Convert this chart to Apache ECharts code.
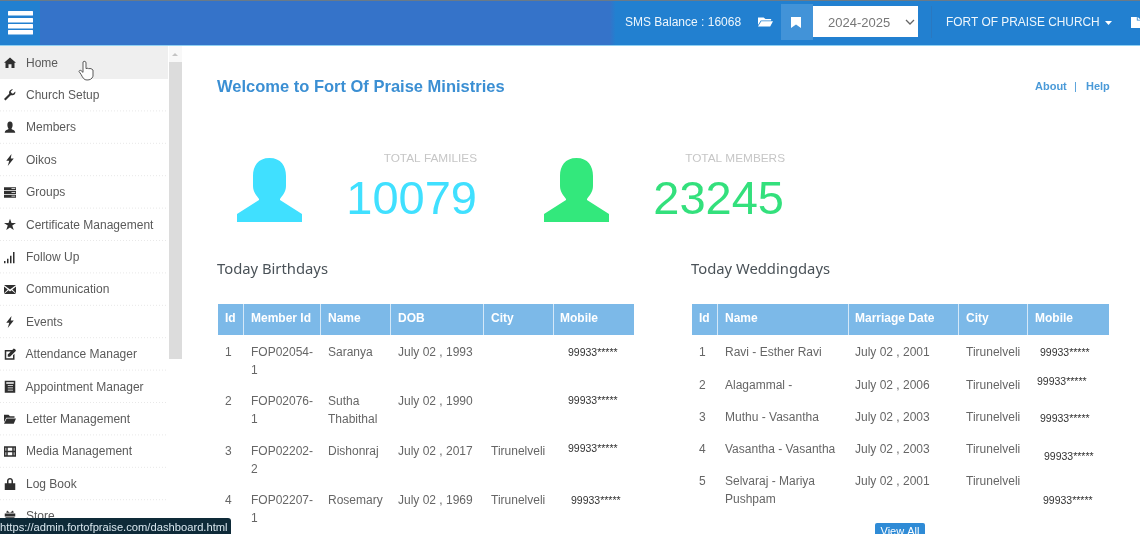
<!DOCTYPE html>
<html>
<head>
<meta charset="utf-8">
<title>Dashboard</title>
<style>
  html, body { margin: 0; padding: 0; background: #fff; overflow: hidden; }
  #main { width: 1140px; height: 534px; filter: blur(0.35px); }
</style>
<script src="https://cdn.jsdelivr.net/npm/echarts@6/dist/echarts.min.js"></script>
</head>
<body>
<div id="main"></div>
<script>
// page content
var navItems = ['Home', 'Church Setup', 'Members', 'Oikos', 'Groups', 'Certificate Management', 'Follow Up',
  'Communication', 'Events', 'Attendance Manager', 'Appointment Manager', 'Letter Management',
  'Media Management', 'Log Book', 'Store'];
var navIcons = ['home', 'wrench', 'user', 'bolt', 'server', 'star', 'signal', 'mail', 'bolt', 'check', 'list',
  'folder', 'film', 'lock', 'gift'];

var totalFamilies = '10079';
var totalMembers = '23245';

var birthdayHeaders = ['Id', 'Member Id', 'Name', 'DOB', 'City', 'Mobile'];
var birthdayIds = ['1', '2', '3', '4'];
var birthdayMemberIds = [['FOP02054-', '1'], ['FOP02076-', '1'], ['FOP02202-', '2'], ['FOP02207-', '1']];
var birthdayNames = [['Saranya'], ['Sutha', 'Thabithal'], ['Dishonraj'], ['Rosemary']];
var birthdayDates = ['July 02 , 1993', 'July 02 , 1990', 'July 02 , 2017', 'July 02 , 1969'];
var birthdayCities = ['', '', 'Tirunelveli', 'Tirunelveli'];
var birthdayMobiles = ['99933*****', '99933*****', '99933*****', '99933*****'];

var weddingHeaders = ['Id', 'Name', 'Marriage Date', 'City', 'Mobile'];
var weddingIds = ['1', '2', '3', '4', '5'];
var weddingNames = [['Ravi - Esther Ravi'], ['Alagammal -'], ['Muthu - Vasantha'], ['Vasantha - Vasantha'], ['Selvaraj - Mariya', 'Pushpam']];
var weddingDates = ['July 02 , 2001', 'July 02 , 2006', 'July 02 , 2003', 'July 02 , 2003', 'July 02 , 2001'];
var weddingCities = ['Tirunelveli', 'Tirunelveli', 'Tirunelveli', 'Tirunelveli', 'Tirunelveli'];
var weddingMobiles = ['99933*****', '99933*****', '99933*****', '99933*****', '99933*****'];

// icon outlines, each drawn in a 16 unit box unless iconBox says otherwise
var iconPaths = {
  home: 'M8 1L16 8H14V15H10V10H6V15H2V8H0Z',
  wrench: 'M15 3L12 6L10 5L9 3L12 0C9 0 6 2 7 6L0 13L2 15L9 8C13 9 16 6 15 3Z',
  user: 'M8 0C10.5 0 11.5 2 11.5 4.5C11.5 7 10.5 8.5 10 9.5C10.5 11 15 11 15 15H1C1 11 5.5 11 6 9.5C5.5 8.5 4.5 7 4.5 4.5C4.5 2 5.5 0 8 0Z',
  bolt: 'M10 0L3 9H7L5 16L13 6H9Z',
  server: 'M0 1H16V5H0ZM0 6H16V10H0ZM0 11H16V15H0ZM10 2.5V3.5H15V2.5ZM10 7.5V8.5H15V7.5ZM10 12.5V13.5H15V12.5Z',
  star: 'M8 0L10 5.5H16L11 9L13 15L8 11.5L3 15L5 9L0 5.5H6Z',
  signal: 'M0 13H2V16H0ZM4 10H6V16H4ZM8 6H10V16H8ZM12 1H14V16H12Z',
  mail: 'M0 2H16L8 8ZM0 4L5 8L0 13ZM16 4V13L11 8ZM6 9L8 10.5L10 9L16 14H0Z',
  check: 'M12 9V13H3V4H9L11 2H1V15H14V7ZM15 1L16 3L8 11H5V8L13 0Z',
  list: 'M1 0H15V16H1ZM3 2V4H13V2ZM5 6V7H12V6ZM5 9V10H12V9ZM5 12V13H12V12Z',
  folder: 'M0 2H6L8 4H14V6H3L0 12ZM3.5 7H16L13 14H0Z',
  film: 'M0 1H16V15H0ZM2 3V7H3V3ZM5 3V7H11V3ZM13 3V7H14V3ZM2 9V13H3V9ZM5 9V13H11V9ZM13 9V13H14V9Z',
  lock: 'M4 7V4C4 1.5 6 0 8 0C10 0 12 1.5 12 4V7H15V16H1V7ZM6 7H10V4C10 2.5 9 2 8 2C7 2 6 2.5 6 4Z',
  gift: 'M1 4H15V8H1ZM2 9H14V16H2ZM4 0L8 3L12 0L13 3H3Z',
  bookmark: 'M0 0H12V16L6 11L0 16Z',
  file: 'M0 0H7V5H12V16H0ZM8 0L12 4H8Z',
  person: 'M32.5 0C44 0 49 8 49 18V28C49 34 45 38 43 41V42L65 56V64H0V56L22 42V41C20 38 16 34 16 28V18C16 8 21 0 32.5 0Z',
  hand: 'M4 1C5 0 7 0 7 2V8L9 7.5L9.5 8L12 8L14 9.5V16C13 19 11 20 8 20C5 20 4 18 2 14L0 11C0 10 1 9.5 2 10L4 12Z'
};
var iconBox = { person: [65, 64], hand: [14, 20], bookmark: [12, 16], file: [12, 16] };

// graphic has no plain path type, so each icon gets registered as a shape
Object.keys(iconPaths).forEach(function (k) {
  echarts.graphic.registerShape('icon_' + k, echarts.graphic.extendPath(iconPaths[k], {}));
});

var els = [];
var font = '"Liberation Sans", Arial, sans-serif';

function rect(x, y, w, h, fill, r) {
  els.push({ type: 'rect', shape: { x: x, y: y, width: w, height: h, r: r || 0 }, style: { fill: fill }, silent: true });
}
function txt(s, x, y, size, fill, weight, fam, align) {
  els.push({
    type: 'text', x: x, y: y + 1, silent: true,
    style: { text: s, fill: fill, font: (weight || 'normal') + ' ' + size + 'px ' + (fam || font), align: align || 'left', verticalAlign: 'middle' }
  });
}
function icon(name, x, y, w, h, fill, stroke) {
  var box = iconBox[name] || [16, 16];
  els.push({
    type: 'icon_' + name, silent: true, x: x, y: y, scaleX: w / box[0], scaleY: h / box[1],
    style: { fill: fill, stroke: stroke || null, lineWidth: stroke ? 1 : 0 }
  });
}

// top bar
els.push({
  type: 'rect', shape: { x: 0, y: 0, width: 1140, height: 45 }, silent: true,
  style: { fill: new echarts.graphic.LinearGradient(0, 0, 1, 0, [
    { offset: 0, color: '#3573c9' }, { offset: 0.535, color: '#3573c9' }, { offset: 0.54, color: '#2280d0' }, { offset: 1, color: '#2280d0' }
  ]) }
});
rect(0, 0, 40, 45, '#2280d0');
rect(0, 0, 1140, 1, '#6a7a88');
rect(0, 45, 1140, 1, '#8fd0f2');
[11, 18, 24, 30].forEach(function (y) { rect(8, y, 25, 4.5, '#ffffff', 0.5); });
txt('SMS Balance : 16068', 625, 22, 12, '#eef6fc');
icon('folder', 758, 16, 15, 12, '#ffffff');
rect(781, 4, 32, 36, '#4293d8');
icon('bookmark', 791, 17, 10, 11, '#ffffff');
rect(813, 6, 105, 31, '#ffffff');
txt('2024-2025', 828, 22, 13, '#777777');
els.push({ type: 'polyline', silent: true, shape: { points: [[906, 20], [910, 24], [914, 20]] }, style: { stroke: '#666', lineWidth: 1.3, fill: null } });
rect(931, 6, 1, 32, '#2a78c0');
txt('FORT OF PRAISE CHURCH', 946, 22, 11.9, '#eef6fc');
els.push({ type: 'polygon', silent: true, shape: { points: [[1105, 21], [1112, 21], [1108.5, 25]] }, style: { fill: '#ffffff' } });
icon('file', 1131, 17, 10, 11, '#ffffff');

// side menu
rect(0, 46, 168, 33, '#efefef');
navItems.forEach(function (name, i) {
  var cy = 62.3 + i * 32.4;
  var offs = (i === 9 || i === 10) ? 25.5 : 26;
  txt(name, offs, cy, 12, '#5a5a5a');
  icon(navIcons[i], 4, cy - 5.5, 12, 12, '#2f2f2f');
  if (i > 0 && i < 14) {
    els.push({ type: 'line', silent: true, shape: { x1: 0, y1: cy + 16.2, x2: 168, y2: cy + 16.2 }, style: { stroke: '#e8e8e8', lineWidth: 1, lineDash: [1, 2] } });
  }
});
rect(169, 46, 13, 16, '#f8f8f8');
els.push({ type: 'polygon', silent: true, shape: { points: [[172, 56], [178, 56], [175, 53]] }, style: { fill: '#c4c4c4' } });
rect(169, 62, 13, 297, '#dcdcdc');
icon('hand', 79, 61, 14, 19, '#ffffff', '#555555');

// page heading
txt('Welcome to Fort Of Praise Ministries', 217, 86, 16.5, '#3b8fd3', 'bold');
txt('About', 1035, 86, 11, '#4a9ad8', 'bold');
txt('|', 1074, 86, 11, '#4a9ad8');
txt('Help', 1086, 86, 11, '#4a9ad8', 'bold');

// totals
icon('person', 237, 158, 65, 64, '#40e0ff');
txt('TOTAL FAMILIES', 477, 158, 11.8, '#c6c6c6', 'normal', null, 'right');
txt(totalFamilies, 477, 200, 47, '#40e0ff', 'normal', null, 'right');
icon('person', 544, 158, 65, 64, '#33e87c');
txt('TOTAL MEMBERS', 785, 158, 11.8, '#c6c6c6', 'normal', null, 'right');
txt(totalMembers, 784, 200, 47, '#33e07c', 'normal', null, 'right');

var headFont = '"Noto Sans", sans-serif';
txt('Today Birthdays', 217, 269, 14.8, '#4a5258', 'normal', headFont);
txt('Today Weddingdays', 691, 269, 14.8, '#4a5258', 'normal', headFont);

// tables
function tableHead(x0, x1, seps, textX, headers) {
  rect(x0, 304, x1 - x0, 31, '#7cb9e8');
  seps.forEach(function (x) { rect(x, 304, 1, 31, '#d4e8f8'); });
  headers.forEach(function (h, i) { txt(h, textX[i], 318, 12, '#ffffff', 'bold'); });
}
function cell(lines, x, y) {
  [].concat(lines).forEach(function (s, k) { txt(s, x, y + k * 17.2, 12, '#666666'); });
}

var bRows = [352, 401, 451, 500];
var bMobX = [568, 568, 568, 571];
var bMobY = [352, 400, 448, 500];
tableHead(218, 634, [243, 320, 390, 483, 553], [225, 251, 328, 398, 491, 560], birthdayHeaders);
birthdayIds.forEach(function (id, i) {
  cell(id, 225, bRows[i]);
  cell(birthdayMemberIds[i], 251, bRows[i]);
  cell(birthdayNames[i], 328, bRows[i]);
  cell(birthdayDates[i], 398, bRows[i]);
  cell(birthdayCities[i], 491, bRows[i]);
  txt(birthdayMobiles[i], bMobX[i], bMobY[i], 10.5, '#333333');
});

var wRows = [352, 385, 417, 449, 481];
var wMobX = [1040, 1037, 1040, 1044, 1043];
var wMobY = [352, 381, 418, 456, 500];
tableHead(692, 1109, [717, 848, 958, 1027], [699, 725, 855, 966, 1035], weddingHeaders);
weddingIds.forEach(function (id, i) {
  cell(id, 699, wRows[i]);
  cell(weddingNames[i], 725, wRows[i]);
  cell(weddingDates[i], 855, wRows[i]);
  cell(weddingCities[i], 966, wRows[i]);
  txt(weddingMobiles[i], wMobX[i], wMobY[i], 10.5, '#333333');
});

rect(875, 523, 50, 14, '#2f8bd6', 2);
txt('View All', 900, 531, 11, '#ffffff', 'normal', null, 'center');

// status link tooltip
rect(-4, 518, 235, 20, '#0e2a38', 3);
txt('https://admin.fortofpraise.com/dashboard.html', 0, 527, 11.2, '#d8e6ee');

var myChart = echarts.init(document.getElementById('main'), null, { renderer: 'canvas' });
myChart.setOption({ animation: false, backgroundColor: '#ffffff', graphic: { elements: els } });
</script>
</body>
</html>
